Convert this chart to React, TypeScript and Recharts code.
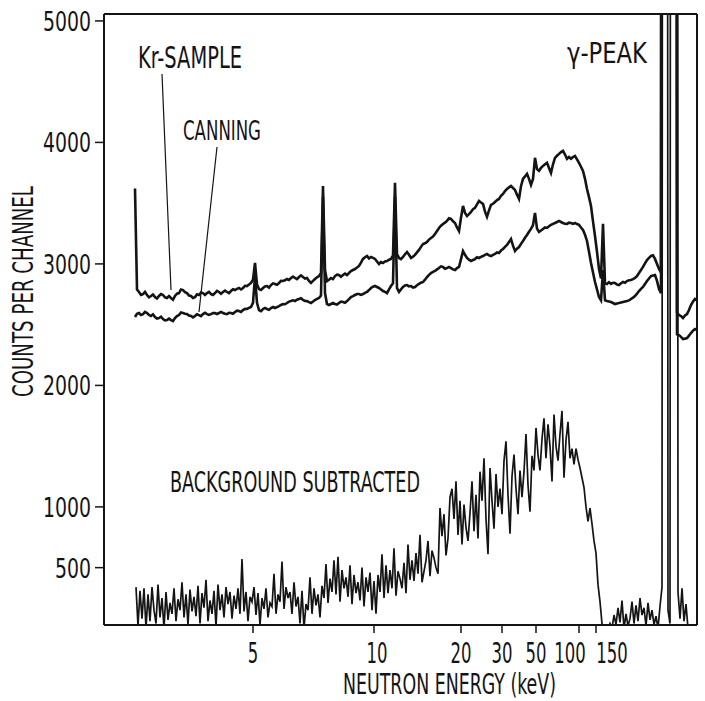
import React from 'react';
import { LineChart, Line, XAxis, YAxis, ReferenceLine } from 'recharts';

const FONT = "'Liberation Sans Narrow', 'DejaVu Sans Condensed', 'Liberation Sans', sans-serif";
const INK = '#141414';

// x axis: time-of-flight channel, labelled with neutron energy (keV)
const energyTickLabels = ['5', '10', '20', '30', '50', '100', '150'];
const energyTickChannels = [149, 270, 357, 398, 432, 475, 492];
const countTicks = [500, 1000, 2000, 3000, 4000, 5000];

// Kr-sample and canning spectra: every 2nd channel starting at channel 31
const curveStartChannel = 31;
const curveStep = 2;
const krSample = [
  3620, 2790, 2769, 2745, 2752, 2770, 2744, 2725, 2736, 2748,
  2727, 2715, 2736, 2752, 2744, 2725, 2719, 2735, 2719, 2705,
  2736, 2755, 2760, 2790, 2785, 2768, 2760, 2740, 2736, 2720,
  2727, 2750, 2744, 2765, 2760, 2745, 2760, 2770, 2752, 2745,
  2760, 2778, 2769, 2755, 2769, 2780, 2769, 2760, 2777, 2792,
  2785, 2795, 2802, 2790, 2802, 2820, 2818, 2830, 2843, 2870,
  3008, 2830, 2793, 2785, 2802, 2815, 2818, 2805, 2826, 2840,
  2835, 2828, 2843, 2860, 2859, 2865, 2876, 2868, 2884, 2895,
  2884, 2875, 2892, 2905, 2892, 2880, 2884, 2860, 2843, 2860,
  2876, 2890, 2900, 2925, 3642, 2950, 2859, 2870, 2884, 2875,
  2900, 2912, 2909, 2895, 2909, 2920, 2909, 2925, 2942, 2950,
  2958, 2970, 2983, 3010, 3041, 3055, 3065, 3045, 3057, 3050,
  3041, 3020, 2999, 3015, 3008, 3020, 3024, 3035, 3041, 3070,
  3667, 3080, 3049, 3040, 3057, 3080, 3098, 3075, 3049, 3060,
  3074, 3095, 3115, 3140, 3164, 3170, 3181, 3200, 3214, 3225,
  3247, 3270, 3296, 3315, 3329, 3340, 3354, 3375, 3370, 3350,
  3337, 3300, 3271, 3380, 3477, 3420, 3395, 3410, 3428, 3450,
  3461, 3490, 3518, 3505, 3494, 3430, 3387, 3440, 3486, 3495,
  3510, 3525, 3535, 3560, 3576, 3600, 3617, 3630, 3642, 3625,
  3609, 3570, 3535, 3640, 3700, 3720, 3741, 3700, 3650, 3700,
  3873, 3780, 3766, 3790, 3807, 3820, 3832, 3790, 3749, 3820,
  3873, 3890, 3906, 3920, 3930, 3900, 3865, 3880, 3865, 3880,
  3889, 3860, 3832, 3800, 3766, 3700, 3617, 3550, 3477, 3350,
  3230, 3100, 2958, 2880, 3330, 2840, 2835, 2850, 2835, 2845,
  2843, 2830, 2826, 2840, 2851, 2845, 2859, 2865, 2868, 2875,
  2884, 2900, 2925, 2950, 2975, 3005, 3032, 3050, 3065, 3070,
  3041, 3000, 2958, 2930, 30000, 30000, 30000, 30000, 30000, 30000,
  30000, 2600, 2579, 2570, 2554, 2575, 2587, 2620, 2662, 2690,
  2711, 2700,
];
const canning = [
  2563, 2590, 2596, 2580, 2587, 2605, 2596, 2580, 2571, 2585,
  2563, 2550, 2554, 2565, 2546, 2535, 2538, 2550, 2538, 2530,
  2554, 2570, 2579, 2600, 2596, 2590, 2587, 2575, 2571, 2560,
  2571, 2585, 2579, 2570, 2587, 2598, 2587, 2580, 2587, 2595,
  2596, 2588, 2596, 2605, 2596, 2590, 2587, 2598, 2596, 2590,
  2604, 2615, 2612, 2605, 2620, 2630, 2629, 2638, 2645, 2680,
  2900, 2680, 2620, 2612, 2629, 2638, 2629, 2622, 2637, 2645,
  2637, 2645, 2653, 2662, 2670, 2668, 2678, 2690, 2694, 2700,
  2694, 2705, 2711, 2718, 2703, 2695, 2694, 2685, 2678, 2690,
  2703, 2712, 2719, 2740, 3550, 2760, 2670, 2662, 2670, 2678,
  2670, 2665, 2678, 2690, 2686, 2680, 2694, 2710, 2727, 2735,
  2744, 2752, 2752, 2745, 2752, 2762, 2769, 2785, 2802, 2812,
  2818, 2810, 2802, 2790, 2777, 2770, 2760, 2790, 2818, 2840,
  3550, 2800, 2769, 2790, 2810, 2822, 2826, 2815, 2818, 2805,
  2810, 2825, 2835, 2845, 2851, 2870, 2892, 2910, 2925, 2935,
  2942, 2955, 2966, 2980, 2975, 2960, 2966, 2975, 2966, 2955,
  2950, 2965, 2975, 3040, 3106, 3075, 3049, 3035, 3024, 3032,
  3040, 3055, 3049, 3058, 3065, 3075, 3082, 3070, 3065, 3075,
  3082, 3095, 3090, 3110, 3123, 3140, 3156, 3180, 3205, 3150,
  3106, 3125, 3139, 3165, 3189, 3215, 3238, 3265, 3288, 3320,
  3420, 3290, 3263, 3275, 3288, 3300, 3296, 3310, 3321, 3330,
  3337, 3345, 3354, 3345, 3337, 3330, 3329, 3340, 3337, 3330,
  3337, 3328, 3321, 3300, 3280, 3240, 3189, 3100, 3008, 2930,
  2851, 2790, 2727, 2700, 2950, 2700, 2694, 2690, 2686, 2678,
  2670, 2675, 2678, 2682, 2686, 2690, 2694, 2700, 2711, 2722,
  2736, 2755, 2777, 2795, 2810, 2835, 2859, 2880, 2900, 2905,
  2909, 2860, 2793, 2760, 30000, 30000, 30000, 30000, 30000, 30000,
  30000, 2420, 2414, 2400, 2381, 2385, 2390, 2410, 2431, 2450,
  2464, 2455,
];

// background-subtracted spectrum: every 2nd channel starting at channel 32
const bgStartChannel = 32;
const bgStep = 2;
const backgroundSubtracted = [
  340, 20, 310, 80, 330, 0, 280, 60, 340, 150,
  40, 360, 90, 250, 0, 300, 70, 210, 120, 330,
  60, 240, 150, 380, 90, 280, 30, 320, 140, 260,
  100, 350, 40, 290, 170, 400, 60, 230, 120, 310,
  10, 360, 150, 280, 90, 340, 200, 300, 80, 270,
  160, 330, 120, 570, 140, 300, 60, 260, 220, 340,
  110, 290, 30, 250, 160, 330, 90, 210, 180, 450,
  120, 280, 220, 550, 160, 340, 250, 300, 120, 380,
  180, 260, 40, 310, 0, 200, 150, 420, 120, 330,
  190, 280, 90, 350, 250, 530, 210, 410, 300, 560,
  280, 590, 220, 480, 330, 420, 260, 520, 200, 440,
  290, 380, 230, 500, 180, 420, 300, 460, 150, 390,
  120, 440, 300, 610, 250, 520, 290, 480, 330, 660,
  270, 470, 410, 330, 540, 290, 690, 400, 560, 390,
  620, 450, 770, 380, 470, 560, 720, 430, 640, 580,
  500, 450, 990, 760, 940, 600, 740, 1080, 1150, 900,
  1210, 770, 1050, 690, 1020, 830, 720, 950, 1210, 800,
  1100, 740, 1290, 1050, 1400, 900, 610, 1320, 1050, 820,
  1270, 1000, 1150, 940, 1380, 1540, 1100, 780, 1250, 1430,
  1150, 940, 1300, 1080, 1290, 1600, 1180, 960, 1420, 1300,
  1650, 1430, 1300, 1560, 1730, 1400, 1680, 1500, 1210, 1760,
  1500, 1380, 1600, 1790, 1240, 1550, 1700, 1400, 1480, 1350,
  1480, 1390, 1320, 1240, 1160, 1000, 880, 990, 860, 720,
  620, 360, 220, 40, 0, 0, 0, 40, 0, 110,
  30, 170, 50, 230, 0, 120, 20, 80, 220, 40,
  190, 60, 250, 110, 170, 20, 210, 70, 150, 30,
  100, 0, 180, 340, 30000, 30000, 150, 40, 30000, 30000,
  30000, 300, 80, 330, 60, 200, 0, 0, 0, 0, 0, 0,
];

const X_DOMAIN: [number, number] = [0, 593];
const Y_DOMAIN: [number, number] = [28, 5057];

const toRows = (values: number[], start: number, step: number) =>
  values.map((v, i) => ({ ch: start + i * step, v }));

const krRows = toRows(krSample, curveStartChannel, curveStep);
const canRows = toRows(canning, curveStartChannel, curveStep);
const bgRows = toRows(backgroundSubtracted, bgStartChannel, bgStep);

const labelNudge: Record<string, number> = { '10': 3, '100': -9, '150': 16 };

// horizontally condensed text (the original lettering is a narrow stencil face)
const SText = (p: {
  x: number;
  y: number;
  size: number;
  len: number;
  sx: number;
  anchor?: 'start' | 'middle' | 'end';
  rotate?: boolean;
  children: string;
}) => (
  <text
    x={0}
    y={0}
    transform={`translate(${p.x},${p.y})${p.rotate ? ' rotate(-90)' : ''} scale(${p.sx},1)`}
    fontFamily={FONT}
    fontSize={p.size}
    fill={INK}
    textAnchor={p.anchor || 'start'}
    textLength={p.len / p.sx}
    lengthAdjust="spacingAndGlyphs"
  >
    {p.children}
  </text>
);

const XTick = (props: any) => {
  const { x, y, payload } = props;
  const idx = energyTickChannels.indexOf(payload.value);
  const label = idx >= 0 ? energyTickLabels[idx] : String(payload.value);
  return (
    <SText x={x + (labelNudge[label] || 0)} y={y + 20} size={29} len={label.length * 10.5} sx={0.62} anchor="middle">
      {label}
    </SText>
  );
};

const YTick = (props: any) => {
  const { x, y, payload } = props;
  const s = String(payload.value);
  return (
    <SText x={x} y={y + 10} size={26} len={s.length * 12} sx={0.8} anchor="end">
      {s}
    </SText>
  );
};

export default function App() {
  return (
    <div style={{ position: 'absolute', left: 0, top: 0, width: 705, height: 701, background: '#fff' }}>
      <LineChart width={705} height={701} margin={{ top: 14, right: 8, left: 24, bottom: 26 }}>
        <XAxis
          dataKey="ch"
          type="number"
          domain={X_DOMAIN}
          allowDataOverflow
          ticks={energyTickChannels}
          tick={<XTick />}
          tickSize={8}
          tickMargin={10}
          height={50}
          axisLine={{ stroke: INK, strokeWidth: 2 }}
          tickLine={{ stroke: INK, strokeWidth: 1.5 }}
          interval={0}
        />
        <YAxis
          type="number"
          domain={Y_DOMAIN}
          allowDataOverflow
          ticks={countTicks}
          tick={<YTick />}
          tickSize={9}
          tickMargin={4}
          width={80}
          axisLine={{ stroke: INK, strokeWidth: 2 }}
          tickLine={{ stroke: INK, strokeWidth: 1.5 }}
          interval={0}
        />
        <ReferenceLine y={Y_DOMAIN[1]} stroke={INK} strokeWidth={2} />
        <ReferenceLine x={X_DOMAIN[1]} stroke={INK} strokeWidth={2} />
        <ReferenceLine segment={[{ x: 58, y: 4563 }, { x: 67, y: 2785 }]} stroke={INK} strokeWidth={1.2} />
        <ReferenceLine segment={[{ x: 113, y: 3962 }, { x: 95, y: 2604 }]} stroke={INK} strokeWidth={1.2} />
        <Line data={bgRows} dataKey="v" type="linear" stroke={INK} strokeWidth={1.7} dot={false} isAnimationActive={false} />
        <Line data={canRows} dataKey="v" type="linear" stroke={INK} strokeWidth={2.6} dot={false} isAnimationActive={false} />
        <Line data={krRows} dataKey="v" type="linear" stroke={INK} strokeWidth={2.6} dot={false} isAnimationActive={false} />
      </LineChart>
      <svg width={705} height={701} style={{ position: 'absolute', left: 0, top: 0, pointerEvents: 'none' }}>
        <SText x={138} y={68} size={30} len={104} sx={0.72}>Kr-SAMPLE</SText>
        <SText x={183} y={140} size={27} len={78} sx={0.72}>CANNING</SText>
        <SText x={567} y={63} size={29} len={80} sx={0.72}>γ-PEAK</SText>
        <SText x={170} y={492} size={29} len={250} sx={0.72}>BACKGROUND SUBTRACTED</SText>
        <SText x={343} y={694} size={29} len={213} sx={0.72}>NEUTRON ENERGY (keV)</SText>
        <SText x={33} y={397} size={29} len={211} sx={0.72} rotate>COUNTS PER CHANNEL</SText>
      </svg>
    </div>
  );
}
